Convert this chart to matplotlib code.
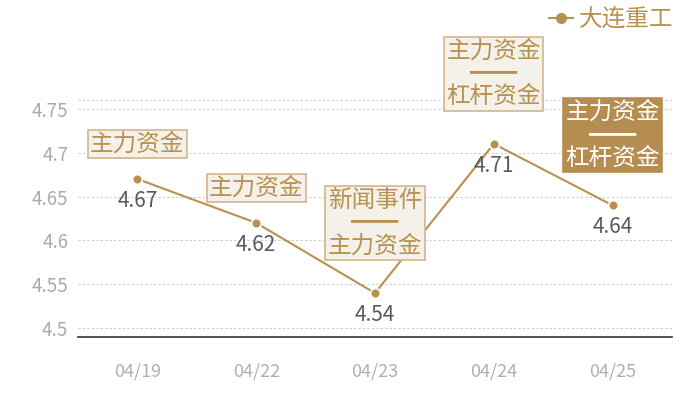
import matplotlib
matplotlib.use("Agg")
import matplotlib.pyplot as plt

plt.rcParams['font.family'] = ['Noto Sans CJK SC', 'DejaVu Sans']

# data
dates = ['04/19', '04/22', '04/23', '04/24', '04/25']
prices = [4.67, 4.62, 4.54, 4.71, 4.64]
notes = ['主力资金', '主力资金', '新闻事件\n━━\n主力资金', '主力资金\n━━\n杠杆资金', '主力资金\n━━\n杠杆资金']
highlight = [False, False, False, False, True]
yticks = [4.5, 4.55, 4.6, 4.65, 4.7, 4.75]
ytick_labels = ['4.5', '4.55', '4.6', '4.65', '4.7', '4.75']
series_name = '大连重工'

gold = '#b8914f'
box_face = '#f4f0ea'
box_edge = '#d3b689'
dark_box = '#b68d50'

fig = plt.figure(figsize=(7, 4), dpi=100)
ax = fig.add_axes([78 / 700, 63 / 400, 594 / 700, 237 / 400])

x = list(range(len(dates)))
ax.plot(x, prices, color=gold, lw=1.5, marker='o', ms=7, mfc=gold, mec='white', mew=1.2, zorder=3)

ax.set_xlim(-0.5, len(dates) - 0.5)
ax.set_ylim(4.49, 4.76)
ax.set_yticks(yticks)
ax.set_yticklabels(ytick_labels)
ax.set_xticks(x)
ax.set_xticklabels(dates)
ax.tick_params(axis='y', length=0, pad=7, labelsize=13.5, labelcolor='#aaaaaa')
ax.tick_params(axis='x', length=0, pad=18, labelsize=13, labelcolor='#b0b0b0')

for y in yticks + [4.76]:
    ax.axhline(y, color='#cccccc', lw=0.8, ls=(0, (2, 2)), zorder=1)

for side in ['top', 'right', 'left']:
    ax.spines[side].set_visible(False)
ax.spines['bottom'].set_color('#333333')
ax.spines['bottom'].set_linewidth(1.2)

for i, (p, note) in enumerate(zip(prices, notes)):
    ax.annotate(f'{p:.2f}', (i, p), xytext=(0, -22), textcoords='offset pixels',
                ha='center', va='center', fontsize=15, color='#595959', zorder=4)
    lines = note.count('\n') + 1
    dy = 35 if lines == 1 else 70
    if highlight[i]:
        fc, ec, tc = dark_box, dark_box, 'white'
    else:
        fc, ec, tc = box_face, box_edge, gold
    ax.annotate(note, (i, p), xytext=(0, dy), textcoords='offset pixels',
                ha='center', va='center', fontsize=17, color=tc, linespacing=1.0,
                multialignment='center', zorder=5,
                bbox=dict(boxstyle='square,pad=0.1', fc=fc, ec=ec, lw=1.2))

# legend in the top right corner
fig.lines.append(plt.Line2D([549 / 700, 573 / 700], [382 / 400, 382 / 400],
                            transform=fig.transFigure, color=gold, lw=1.5))
fig.lines.append(plt.Line2D([561 / 700], [382 / 400], transform=fig.transFigure,
                            marker='o', ms=7, color=gold, mec=gold))
fig.text(579 / 700, 381 / 400, series_name, fontsize=17, color=gold, ha='left', va='center')

fig.savefig('out.png', dpi=100)
